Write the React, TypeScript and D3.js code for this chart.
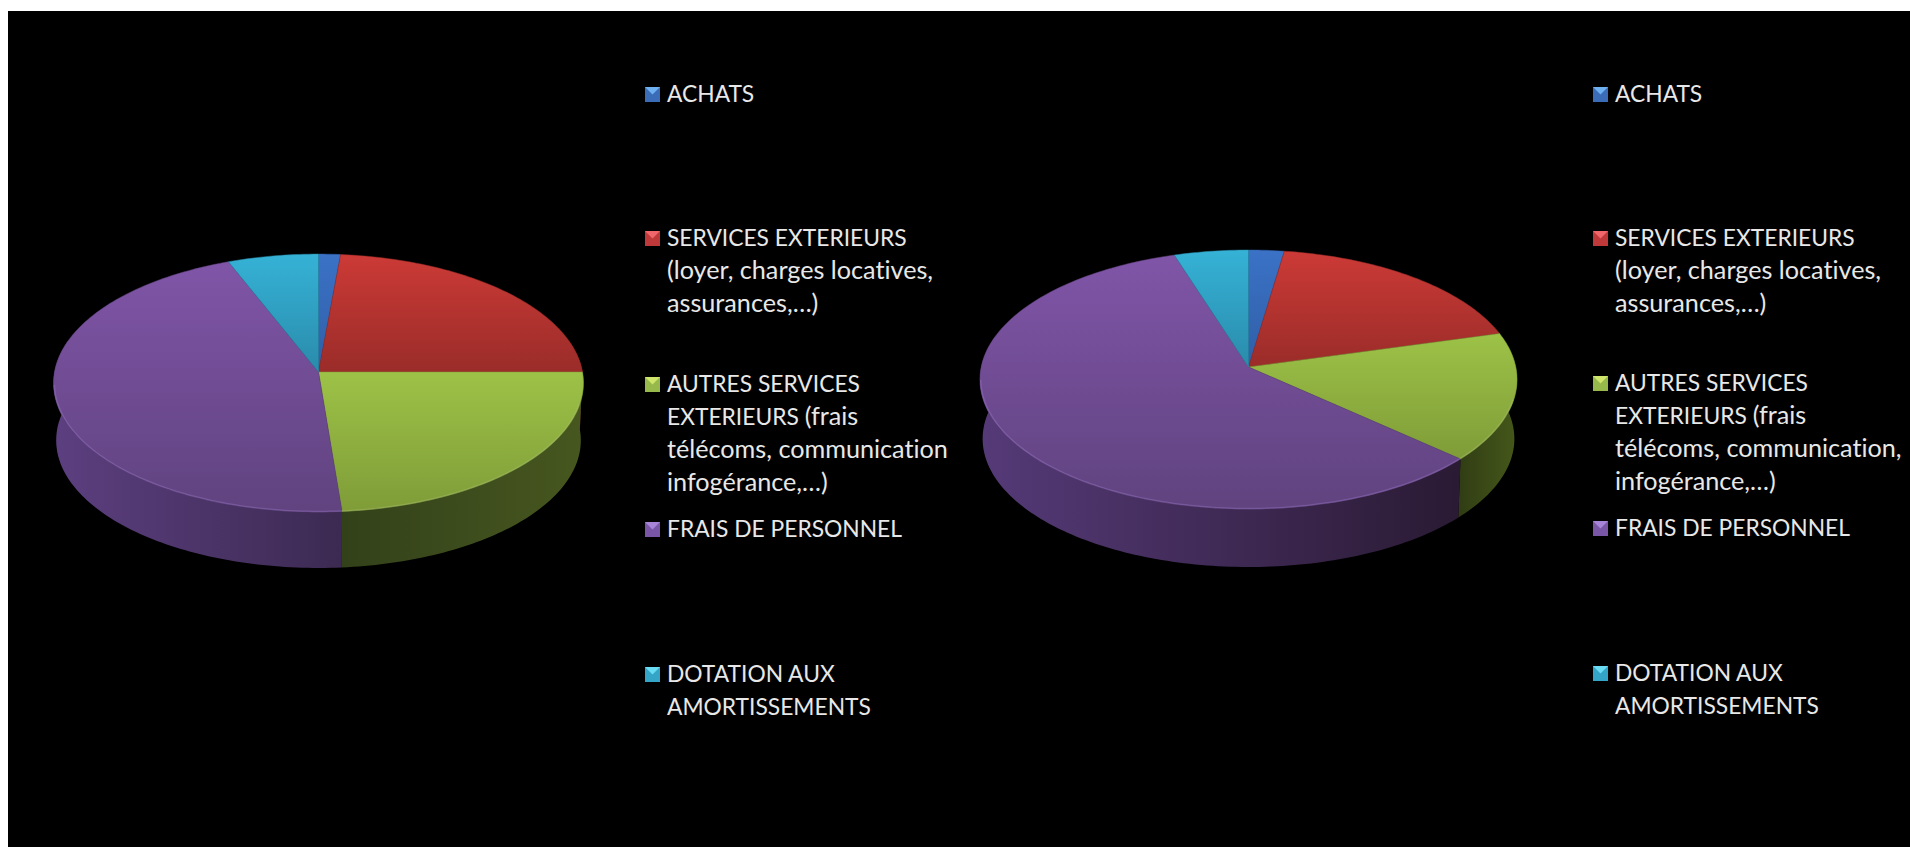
import React from "react";
import * as d3 from "d3";

const WIDTH = 1910;
const HEIGHT = 847;

const categories = ["ACHATS", "SERVICES EXTERIEURS", "AUTRES SERVICES", "FRAIS DE PERSONNEL", "DOTATION AUX"];

// Share of each expense category, in percent.
const valuesLeft = [1.45, 23.55, 23.7, 45.3, 6.0];
const valuesRight = [2.35, 18.35, 16.0, 58.4, 4.9];

const faceLight = ["#3b72c6", "#cc3a36", "#9dc247", "#8055a8", "#35b2d6"];
const faceDark = ["#2f5ea6", "#9a2c29", "#7f9c38", "#60437f", "#2a8bab"];
const bevel = ["#5a8fe0", "#e06060", "#a8c070", "#9a78c8", "#60c8e8"];
const markerBase = ["#3a6cb8", "#c0393a", "#97b84a", "#7a57a6", "#34a5c6"];
const markerLight = ["#6fb0f0", "#f0666a", "#cfe56c", "#a884d8", "#6adcf4"];

const wallStartLeft = ["#1c3560", "#5a1c1a", "#33411a", "#5c3f80", "#175468"];
const wallEndLeft = ["#1c3560", "#5a1c1a", "#47571f", "#3c2a52", "#175468"];
const wallStartRight = ["#1c3560", "#5a1c1a", "#303d14", "#553a78", "#175468"];
const wallEndRight = ["#1c3560", "#5a1c1a", "#46581a", "#2a1a33", "#175468"];

const legendLeft = [
  { lines: ["ACHATS"], baseline: 102 },
  { lines: ["SERVICES EXTERIEURS", "(loyer, charges locatives,", "assurances,…)"], baseline: 246 },
  { lines: ["AUTRES SERVICES", "EXTERIEURS (frais", "télécoms, communication", "infogérance,…)"], baseline: 392 },
  { lines: ["FRAIS DE PERSONNEL"], baseline: 537 },
  { lines: ["DOTATION AUX", "AMORTISSEMENTS"], baseline: 682 },
];
const legendRight = [
  { lines: ["ACHATS"], baseline: 102 },
  { lines: ["SERVICES EXTERIEURS", "(loyer, charges locatives,", "assurances,…)"], baseline: 246 },
  { lines: ["AUTRES SERVICES", "EXTERIEURS (frais", "télécoms, communication,", "infogérance,…)"], baseline: 391 },
  { lines: ["FRAIS DE PERSONNEL"], baseline: 536 },
  { lines: ["DOTATION AUX", "AMORTISSEMENTS"], baseline: 681 },
];

type Geometry = {
  apexX: number;
  apexY: number;
  scaleX: number;
  scaleY: number;
  tilt: number;
  depth: number;
  baseScale: number;
};

const geometryLeft: Geometry = { apexX: 318.5, apexY: 372, scaleX: 264, scaleY: 128, tilt: 0.0853, depth: 57.4, baseScale: 0.99 };
const geometryRight: Geometry = { apexX: 1248.5, apexY: 367, scaleX: 267.3, scaleY: 128.3, tilt: 0.0966, depth: 59.4, baseScale: 0.99 };

// Perspective projection of a point on the disc, angle measured clockwise from the back of the pie.
function project(g: Geometry, angle: number, radius = 1, lowered = false): [number, number] {
  const u = radius * Math.sin(angle);
  const v = -radius * Math.cos(angle);
  const w = 1 - g.tilt * v;
  const k = lowered ? g.baseScale : 1;
  return [g.apexX + (k * g.scaleX * u) / w, g.apexY + (lowered ? g.depth : 0) + (k * g.scaleY * v) / w];
}

function sampleAngles(start: number, end: number): number[] {
  const steps = Math.max(2, Math.ceil((end - start) / 0.02));
  return d3.range(steps + 1).map((i) => start + ((end - start) * i) / steps);
}

const line = d3.line<[number, number]>();

function Pie3D({ id, values, geometry, wallStart, wallEnd }: {
  id: string;
  values: number[];
  geometry: Geometry;
  wallStart: string[];
  wallEnd: string[];
}) {
  const arcs = d3.pie<number>().sort(null)(values);
  return (
    <g>
      <defs>
        {arcs.map((_, i) => (
          <React.Fragment key={i}>
            <linearGradient id={`${id}-face-${i}`} x1="0" y1="0" x2="0" y2="1">
              <stop offset="0" stopColor={faceLight[i]} />
              <stop offset="1" stopColor={faceDark[i]} />
            </linearGradient>
            <linearGradient id={`${id}-wall-${i}`} x1="0" y1="0" x2="1" y2="0">
              <stop offset="0" stopColor={wallStart[i]} />
              <stop offset="1" stopColor={wallEnd[i]} />
            </linearGradient>
          </React.Fragment>
        ))}
      </defs>
      {arcs.map((a, i) => {
        // Only the front half of the rim contributes a visible wall.
        const start = Math.max(a.startAngle, Math.PI / 2 - 0.25);
        const end = Math.min(a.endAngle, (3 * Math.PI) / 2 + 0.25);
        if (end <= start) return null;
        const angles = sampleAngles(start, end);
        const upper = angles.map((t) => project(geometry, t));
        const lower = angles.map((t) => project(geometry, t, 1, true)).reverse();
        return <path key={i} d={`${line([...upper, ...lower])}Z`} fill={`url(#${id}-wall-${i})`} />;
      })}
      {arcs.map((a, i) => {
        const rim = sampleAngles(a.startAngle, a.endAngle).map((t) => project(geometry, t));
        return (
          <path
            key={i}
            d={`${line([[geometry.apexX, geometry.apexY], ...rim])}Z`}
            fill={`url(#${id}-face-${i})`}
            stroke={faceDark[i]}
            strokeWidth={0.5}
          />
        );
      })}
      {arcs.map((a, i) => {
        // Soft bevel along the front edge of the top face.
        const start = Math.max(a.startAngle, Math.PI / 2 + 0.25);
        const end = Math.min(a.endAngle, (3 * Math.PI) / 2 - 0.1);
        if (end <= start) return null;
        const rim = sampleAngles(start, end).map((t) => project(geometry, t, 0.997));
        return <path key={i} d={line(rim) ?? ""} fill="none" stroke={bevel[i]} strokeWidth={1.5} opacity={0.4} />;
      })}
    </g>
  );
}

// Capitals are set smaller than lower case, which keeps Lato close to a Calibri-like colour.
function textRuns(text: string): { text: string; capitals: boolean }[] {
  const parts = text.match(/[A-Z]+(?: (?=[A-Z(])|$)?(?:[A-Z ]*)|[^A-Z]+/g) ?? [text];
  return parts.map((p) => ({ text: p, capitals: /^[A-Z ]+$/.test(p) }));
}

function Legend({ items, markerX, textX }: {
  items: { lines: string[]; baseline: number }[];
  markerX: number;
  textX: number;
}) {
  const lineStep = 33;
  const size = 15;
  return (
    <g>
      {items.map((item, i) => {
        const top = item.baseline - size;
        return (
          <g key={categories[i]}>
            <rect x={markerX} y={top} width={size} height={size} fill={markerBase[i]} />
            <path
              d={`M${markerX},${top}L${markerX + size},${top}L${markerX + size / 2},${top + size / 2}Z`}
              fill={markerLight[i]}
            />
            {item.lines.map((l, j) => (
              <text
                key={j}
                x={textX}
                y={item.baseline + j * lineStep}
                fill="#e8e8e8"
                fontFamily="Lato, sans-serif"
                xmlSpace="preserve"
                style={{ fontVariantLigatures: "none", whiteSpace: "pre" }}
              >
                {textRuns(l).map((r, k) => (
                  <tspan key={k} fontSize={r.capitals ? 22.8 : 25.2}>{r.text}</tspan>
                ))}
              </text>
            ))}
          </g>
        );
      })}
    </g>
  );
}

export default function App() {
  return (
    <svg
      width={WIDTH}
      height={HEIGHT}
      viewBox={`0 0 ${WIDTH} ${HEIGHT}`}
      style={{ position: "absolute", left: 0, top: 0, display: "block" }}
    >
      <rect x={0} y={0} width={WIDTH} height={HEIGHT} fill="#ffffff" />
      <rect x={8} y={11} width={WIDTH - 8} height={HEIGHT - 11} fill="#000000" />
      <Pie3D id="left" values={valuesLeft} geometry={geometryLeft} wallStart={wallStartLeft} wallEnd={wallEndLeft} />
      <Pie3D id="right" values={valuesRight} geometry={geometryRight} wallStart={wallStartRight} wallEnd={wallEndRight} />
      <Legend items={legendLeft} markerX={645} textX={667} />
      <Legend items={legendRight} markerX={1593} textX={1615} />
    </svg>
  );
}
